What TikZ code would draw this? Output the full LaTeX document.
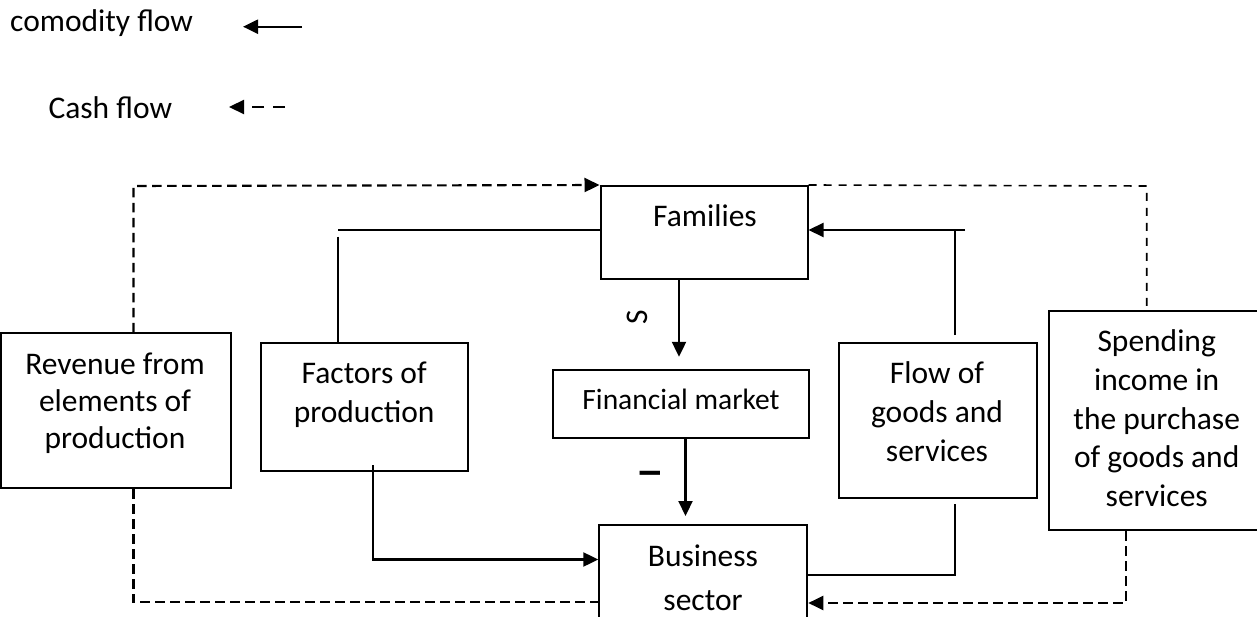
\documentclass[tikz,border=0pt]{standalone}
\usepackage{fontspec}
\setmainfont{Carlito}
\usetikzlibrary{arrows.meta}
\begin{document}
\begin{tikzpicture}[x=1pt,y=-1pt,
  box/.style={draw, line width=2pt, rectangle, inner sep=0pt},
  txt/.style={align=center, inner sep=0pt, font=\fontsize{31.5}{38.5}\selectfont},
  thinln/.style={line width=1.7pt},
  tip/.style={-{Triangle[length=15pt,width=14pt]}},
  arr/.style={line width=2.2pt, tip},
  dsh/.style={line width=2.1pt, dash pattern=on 9.5pt off 5.5pt},
  dshthin/.style={line width=1.6pt, dash pattern=on 8pt off 7pt},
]
\useasboundingbox (0,0) rectangle (1257,617);

% legend
\node[txt, anchor=base west] (legc) at (10,31.7) {comodity flow};
\node[txt, anchor=base west] (legm) at (48.3,118.3) {Cash flow};
\coordinate (la1) at (302,26.7);
\coordinate (la2) at (243,26.7);
\draw[arr] (la1) -- (la2);
\coordinate (lb1) at (285,107);
\coordinate (lb2) at (229,107);
\draw[line width=2.2pt, tip, dash pattern=on 12pt off 9pt] (lb1) -- (lb2);

% boxes
\node[box, minimum width=207pt, minimum height=93pt] (fam) at (704,232.5) {};
\node[box, line width=2.4pt, minimum width=256pt, minimum height=68pt] (fm) at (681,404) {};
\node[box, minimum width=208pt, minimum height=115pt] (bus) at (703.3,582.5) {};
\node[box, minimum width=230.3pt, minimum height=154.7pt] (rev) at (116.2,410.7) {};
\node[box, minimum width=206.7pt, minimum height=127.4pt] (fac) at (364.4,407) {};
\node[box, minimum width=197.7pt, minimum height=155pt] (flow) at (937.8,420.8) {};
\node[box, minimum width=214.5pt, minimum height=219pt] (spend) at (1156.7,420.5) {};

% texts
\node[txt] (famt) at (705,216) {Families};
\node[txt, font=\fontsize{29.5}{36}\selectfont] (fmt) at (681,399.5) {Financial market};
\node[txt, font=\fontsize{31.5}{44}\selectfont] (bust) at (703,577.5) {Business\\sector};
\node[txt, font=\fontsize{31.5}{37.2}\selectfont] (revt) at (115,403.4) {Revenue from\\elements of\\production};
\node[txt] (fact) at (364.2,394.8) {Factors of\\production};
\node[txt, font=\fontsize{31.5}{39.2}\selectfont] (flowt) at (937,411.7) {Flow of\\goods and\\services};
\node[txt, font=\fontsize{31.5}{38.75}\selectfont] (spendt) at (1156.7,418.3) {Spending\\income in\\the purchase\\of goods and\\services};

% S and I labels
\node[txt, rotate=90] (slab) at (637,317) {S};
\node[txt, rotate=90, font=\fontsize{31.5}{38}\selectfont\bfseries] (ilab) at (650,473) {I};

% cash flows (dashed)
\coordinate (tl) at (133.5,186);
\coordinate (bl) at (133.5,602.3);
\draw[dsh, tip] (rev.north -| tl) -- (tl) -- (fam.north west);
\draw[dsh] (rev.south -| tl) -- (bl) -- (bus.west |- bl);
\coordinate (tr) at (1146.7,186);
\draw[dshthin] (fam.north east) -- (tr) -- (spend.north -| tr);
\coordinate (br) at (1125.7,603);
\draw[dsh, tip] (spend.south -| br) -- (br) -- (bus.east |- br);

% commodity flows (solid)
\coordinate (fa1) at (338.3,230.3);
\coordinate (fa2) at (338.3,236.7);
\draw[thinln] (fam.west |- fa1) -- (fa1);
\draw[thinln] (fa2) -- (fac.north -| fa2);
\coordinate (fb1) at (373.3,465);
\coordinate (fb2) at (373.3,559.5);
\draw[arr] (fb1) -- (fb2) -- (bus.west |- fb2);
\coordinate (ga1) at (955,335);
\coordinate (ga2) at (955,230);
\coordinate (ga3) at (965,230);
\draw[thinln] (ga1) -- (ga2);
\draw[arr] (ga3) -- (fam.east |- ga3);
\coordinate (gb1) at (955,504);
\coordinate (gb2) at (955,575);
\draw[thinln] (gb1) -- (gb2) -- (bus.east |- gb2);

% savings and investment
\coordinate (sx) at (679,0);
\coordinate (ix) at (685.5,0);
\draw[arr, shorten >=12pt] (fam.south -| sx) -- (fm.north -| sx);
\draw[arr, shorten >=8pt] (fm.south -| ix) -- (bus.north -| ix);
\end{tikzpicture}
\end{document}
